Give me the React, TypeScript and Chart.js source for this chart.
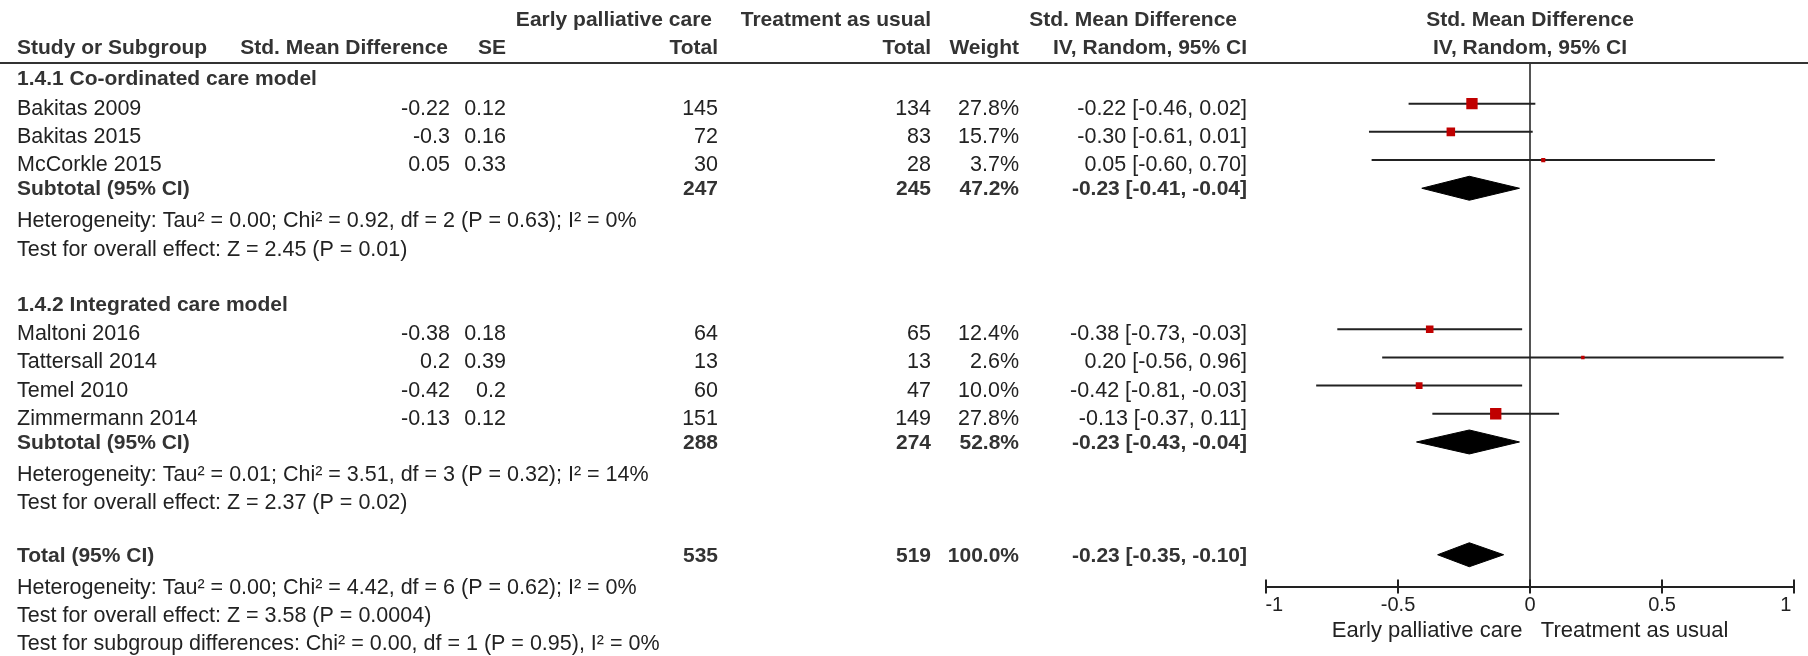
import { useEffect, useRef } from 'react';
import { Chart, registerables } from 'chart.js';

Chart.register(...registerables);

// ---- Forest plot data ----
const subgroupTitles = ['1.4.1 Co-ordinated care model', '1.4.2 Integrated care model'];

const studyNames = [
  'Bakitas 2009',
  'Bakitas 2015',
  'McCorkle 2015',
  'Maltoni 2016',
  'Tattersall 2014',
  'Temel 2010',
  'Zimmermann 2014',
];
const studySubgroup = [0, 0, 0, 1, 1, 1, 1];
const studySmd = [-0.22, -0.3, 0.05, -0.38, 0.2, -0.42, -0.13];
const studySe = [0.12, 0.16, 0.33, 0.18, 0.39, 0.2, 0.12];
const studyTotalEarly = [145, 72, 30, 64, 13, 60, 151];
const studyTotalUsual = [134, 83, 28, 65, 13, 47, 149];
const studyWeight = [27.8, 15.7, 3.7, 12.4, 2.6, 10.0, 27.8];
const studyCiLow = [-0.46, -0.61, -0.6, -0.73, -0.56, -0.81, -0.37];
const studyCiHigh = [0.02, 0.01, 0.7, -0.03, 0.96, -0.03, 0.11];

const subtotalEarly = [247, 288];
const subtotalUsual = [245, 274];
const subtotalWeight = [47.2, 52.8];
const subtotalEst = [-0.23, -0.23];
const subtotalLow = [-0.41, -0.43];
const subtotalHigh = [-0.04, -0.04];
const subgroupHeterogeneity = [
  'Heterogeneity: Tau² = 0.00; Chi² = 0.92, df = 2 (P = 0.63); I² = 0%',
  'Heterogeneity: Tau² = 0.01; Chi² = 3.51, df = 3 (P = 0.32); I² = 14%',
];
const subgroupOverall = [
  'Test for overall effect: Z = 2.45 (P = 0.01)',
  'Test for overall effect: Z = 2.37 (P = 0.02)',
];

const totalEarly = [535];
const totalUsual = [519];
const totalWeight = [100.0];
const totalEst = [-0.23];
const totalLow = [-0.35];
const totalHigh = [-0.1];
const totalNotes = [
  'Heterogeneity: Tau² = 0.00; Chi² = 4.42, df = 6 (P = 0.62); I² = 0%',
  'Test for overall effect: Z = 3.58 (P = 0.0004)',
  'Test for subgroup differences: Chi² = 0.00, df = 1 (P = 0.95), I² = 0%',
];

const axisTicks = [-1, -0.5, 0, 0.5, 1];
const favoursLabels = ['Early palliative care', 'Treatment as usual'];

// ---- Row layout (one unit per table line) ----
const rows = (() => {
  let r = 0;
  const heading: number[] = [];
  const study: number[] = new Array(studyNames.length).fill(0);
  const subtotal: number[] = [];
  const het: number[] = [];
  const test: number[] = [];
  subgroupTitles.forEach((_, g) => {
    heading.push(r++);
    studyNames.forEach((_, i) => {
      if (studySubgroup[i] === g) study[i] = r++;
    });
    subtotal.push(r++);
    het.push(r++);
    test.push(r++);
    r++;
  });
  const total = r++;
  const notes = totalNotes.map(() => r++);
  return { heading, study, subtotal, het, test, total, notes };
})();

const HEADER_ROW_1 = -2.1;
const HEADER_ROW_2 = -1.1;
const ROW_TOP = -0.443;
const ROW_BOTTOM = 18.13;
const DIAMOND_HALF = 0.425;

const FONT = '"Liberation Sans", Arial, sans-serif';
const COL = { name: 17, smd: 450, smdHead: 448, se: 506, early: 718, earlyHead: 712, usual: 931, weight: 1019, ci: 1247, ciHead: 1237 };

// baseline offsets below a row's centre line
const BASE_REGULAR = 11;
const BASE_HEADING = 10;
const BASE_SUMMARY = 7;

const f2 = (v: number) => v.toFixed(2);
const ciText = (e: number, lo: number, hi: number) => `${f2(e)} [${f2(lo)}, ${f2(hi)}]`;
const pct = (w: number) => `${w.toFixed(1)}%`;
const markerSide = (w: number) => 2.15 * Math.sqrt(w);

const diamond = (lo: number, est: number, hi: number, row: number) => [
  { x: lo, y: row },
  { x: est, y: row - DIAMOND_HALF },
  { x: hi, y: row },
  { x: est, y: row + DIAMOND_HALF },
  { x: lo, y: row },
];

const tablePlugin = {
  id: 'forestTable',
  afterDraw(chart: any) {
    const { ctx, chartArea } = chart;
    const xs = chart.scales.x;
    const ys = chart.scales.y;
    const py = (row: number) => ys.getPixelForValue(row);

    ctx.save();
    // rule under the column headers
    ctx.strokeStyle = '#333';
    ctx.lineWidth = 2;
    ctx.beginPath();
    ctx.moveTo(0, chartArea.top);
    ctx.lineTo(chart.width, chartArea.top);
    ctx.stroke();

    // upper half of the axis tick marks
    ctx.strokeStyle = '#222';
    xs.ticks.forEach((_: any, i: number) => {
      const px = Math.round(xs.getPixelForTick(i));
      ctx.beginPath();
      ctx.moveTo(px, chartArea.bottom);
      ctx.lineTo(px, chartArea.bottom - 7);
      ctx.stroke();
    });

    const text = (s: string, x: number, row: number, align: CanvasTextAlign, bold = false, base = BASE_REGULAR) => {
      ctx.font = bold ? `bold 21px ${FONT}` : `21.5px ${FONT}`;
      ctx.fillStyle = bold ? '#333' : '#222';
      ctx.textAlign = align;
      ctx.textBaseline = 'alphabetic';
      ctx.fillText(s, x, py(row) + base);
    };

    const zeroX = xs.getPixelForValue(0);

    // headers
    const h1 = (s: string, x: number, a: CanvasTextAlign) => text(s, x, HEADER_ROW_1, a, true, BASE_HEADING);
    const h2 = (s: string, x: number, a: CanvasTextAlign) => text(s, x, HEADER_ROW_2, a, true, BASE_HEADING);
    h1(favoursLabels[0], COL.earlyHead, 'right');
    h1(favoursLabels[1], COL.usual, 'right');
    h1('Std. Mean Difference', COL.ciHead, 'right');
    h1('Std. Mean Difference', zeroX, 'center');
    h2('Study or Subgroup', COL.name, 'left');
    h2('Std. Mean Difference', COL.smdHead, 'right');
    h2('SE', COL.se, 'right');
    h2('Total', COL.early, 'right');
    h2('Total', COL.usual, 'right');
    h2('Weight', COL.weight, 'right');
    h2('IV, Random, 95% CI', COL.ci, 'right');
    h2('IV, Random, 95% CI', zeroX, 'center');

    // subgroups
    subgroupTitles.forEach((title, g) => {
      text(title, COL.name, rows.heading[g], 'left', true, BASE_HEADING);
      studyNames.forEach((name, i) => {
        if (studySubgroup[i] !== g) return;
        const r = rows.study[i];
        text(name, COL.name, r, 'left');
        text(String(studySmd[i]), COL.smd, r, 'right');
        text(String(studySe[i]), COL.se, r, 'right');
        text(String(studyTotalEarly[i]), COL.early, r, 'right');
        text(String(studyTotalUsual[i]), COL.usual, r, 'right');
        text(pct(studyWeight[i]), COL.weight, r, 'right');
        text(ciText(studySmd[i], studyCiLow[i], studyCiHigh[i]), COL.ci, r, 'right');
      });
      const s = rows.subtotal[g];
      text('Subtotal (95% CI)', COL.name, s, 'left', true, BASE_SUMMARY);
      text(String(subtotalEarly[g]), COL.early, s, 'right', true, BASE_SUMMARY);
      text(String(subtotalUsual[g]), COL.usual, s, 'right', true, BASE_SUMMARY);
      text(pct(subtotalWeight[g]), COL.weight, s, 'right', true, BASE_SUMMARY);
      text(ciText(subtotalEst[g], subtotalLow[g], subtotalHigh[g]), COL.ci, s, 'right', true, BASE_SUMMARY);
      text(subgroupHeterogeneity[g], COL.name, rows.het[g], 'left');
      text(subgroupOverall[g], COL.name, rows.test[g], 'left');
    });

    // overall
    const t = rows.total;
    text('Total (95% CI)', COL.name, t, 'left', true, BASE_SUMMARY);
    text(String(totalEarly[0]), COL.early, t, 'right', true, BASE_SUMMARY);
    text(String(totalUsual[0]), COL.usual, t, 'right', true, BASE_SUMMARY);
    text(pct(totalWeight[0]), COL.weight, t, 'right', true, BASE_SUMMARY);
    text(ciText(totalEst[0], totalLow[0], totalHigh[0]), COL.ci, t, 'right', true, BASE_SUMMARY);
    totalNotes.forEach((note, k) => text(note, COL.name, rows.notes[k], 'left'));

    ctx.restore();
  },
};

export default function App() {
  const canvasRef = useRef<HTMLCanvasElement | null>(null);

  useEffect(() => {
    const canvas = canvasRef.current;
    if (!canvas) return;

    const whiskers = studyNames.map((name, i) => ({
      type: 'line' as const,
      label: `${name} CI`,
      data: [
        { x: studyCiLow[i], y: rows.study[i] },
        { x: studyCiHigh[i], y: rows.study[i] },
      ],
      borderColor: '#222',
      borderWidth: 2,
      pointRadius: 0,
      fill: false,
      order: 3,
    }));

    const diamonds = [
      ...subgroupTitles.map((title, g) => ({
        label: `${title} subtotal`,
        data: diamond(subtotalLow[g], subtotalEst[g], subtotalHigh[g], rows.subtotal[g]),
      })),
      { label: 'Total', data: diamond(totalLow[0], totalEst[0], totalHigh[0], rows.total) },
    ].map((d) => ({
      type: 'line' as const,
      label: d.label,
      data: d.data,
      borderColor: '#000',
      borderWidth: 1,
      backgroundColor: '#000',
      fill: 'shape' as const,
      pointRadius: 0,
      tension: 0,
      order: 2,
    }));

    const markers = {
      type: 'scatter' as const,
      label: 'Studies',
      data: studyNames.map((_, i) => ({ x: studySmd[i], y: rows.study[i] })),
      pointStyle: 'rect' as const,
      pointRadius: (c: any) => markerSide(studyWeight[c.dataIndex]) / Math.SQRT2,
      backgroundColor: '#c00000',
      borderWidth: 0,
      order: 1,
    };

    const tickLabel = (v: number) => {
      if (v === axisTicks[0]) return `   ${v}`;
      if (v === axisTicks[axisTicks.length - 1]) return `${v}   `;
      return String(v);
    };

    const chart = new Chart(canvas, {
      type: 'scatter',
      data: { datasets: [...whiskers, ...diamonds, markers] as any },
      options: {
        responsive: false,
        animation: false,
        devicePixelRatio: 1,
        events: [],
        layout: { padding: { left: 1266, right: 13.5, top: 63, bottom: 12 } },
        plugins: { legend: { display: false }, tooltip: { enabled: false } },
        scales: {
          x: {
            type: 'linear',
            min: axisTicks[0],
            max: axisTicks[axisTicks.length - 1],
            afterBuildTicks: (scale: any) => {
              scale.ticks = axisTicks.map((value) => ({ value }));
            },
            ticks: {
              autoSkip: false,
              maxRotation: 0,
              padding: 0,
              color: '#222',
              font: { family: FONT, size: 20 },
              callback: (v: any) => tickLabel(Number(v)),
            },
            grid: {
              drawOnChartArea: true,
              color: (c: any) => (c.tick && c.tick.value === 0 ? '#555' : 'rgba(0,0,0,0)'),
              lineWidth: 2,
              tickLength: 7,
              tickColor: '#222',
              tickWidth: 2,
            },
            border: { display: true, color: '#222', width: 2 },
            title: {
              display: true,
              text: favoursLabels.join('   '),
              color: '#222',
              font: { family: FONT, size: 22 },
              padding: { top: 0, bottom: 0 },
            },
          },
          y: {
            type: 'linear',
            display: false,
            reverse: true,
            min: ROW_TOP,
            max: ROW_BOTTOM,
          },
        },
      },
      plugins: [tablePlugin],
    });

    return () => chart.destroy();
  }, []);

  return (
    <canvas
      ref={canvasRef}
      width={1808}
      height={656}
      style={{ position: 'fixed', left: 0, top: 0, display: 'block', background: '#fff' }}
    />
  );
}
